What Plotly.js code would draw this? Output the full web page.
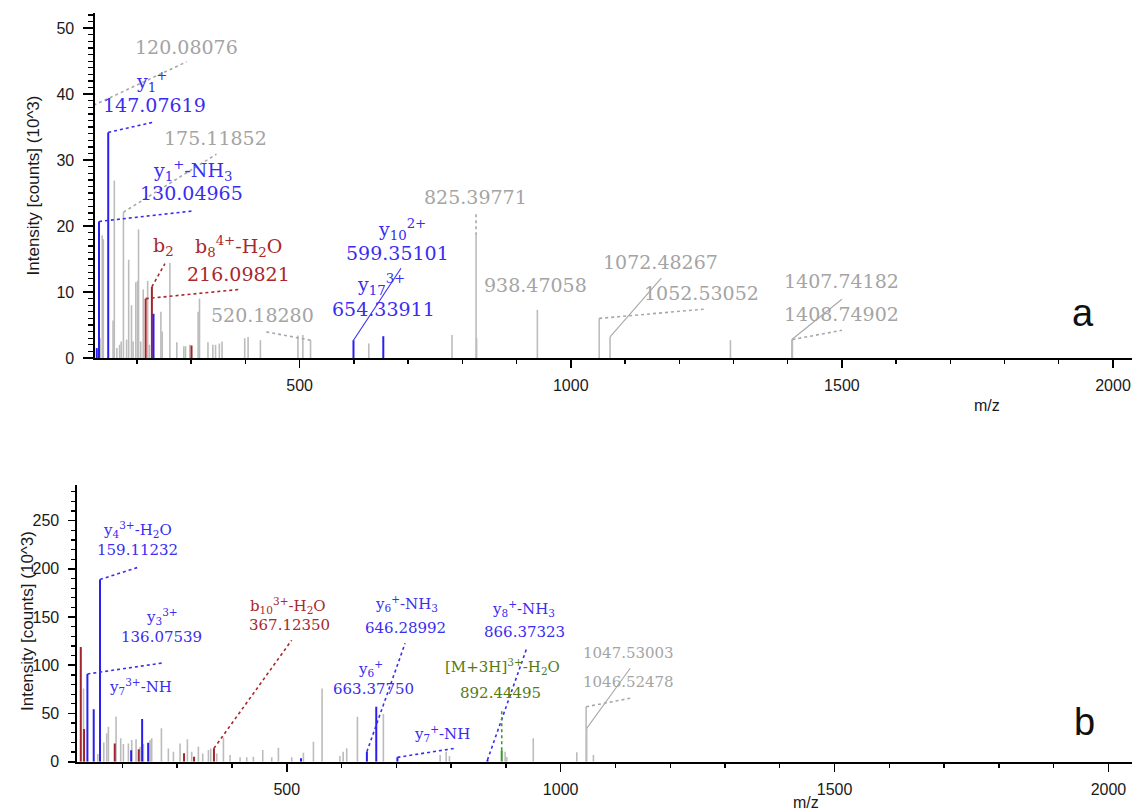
<!DOCTYPE html>
<html><head><meta charset="utf-8">
<script src="https://cdn.plot.ly/plotly-3.0.1.min.js"></script>
<style>html,body{margin:0;padding:0;background:#fff}#chart{width:1132px;height:812px}</style>
</head><body><div id="chart"></div>
<script>
// ---------------- DATA: panel a ----------------
const aGrayMz  = [120.08,132,136,138,156,158.3,163,168,171,175.12,181,184.8,190,193,198,201.3,203,207,211.7,219.8,223,244.2,246.6,260.8,273.6,286.5,289.6,297.6,312.9,315.4,331,340,345,352,357,398.8,405,427.7,496.9,506,520.18,627.6,781,825.40,826.4,938.47,1052.53,1072.48,1294.5,1407.74,1408.75];
const aGrayInt = [38.3,3.0,18.6,18.0,5.7,26.9,1.5,2.0,2.5,22.1,2.8,14.9,8.0,2.5,11.5,11.7,19.5,2.5,10.4,11.7,2.0,7.0,4.0,14.4,2.4,1.8,1.8,2.0,7.0,9.0,2.4,2.0,2.0,2.2,2.5,3.0,3.2,2.7,3.4,3.5,2.7,2.2,3.5,18.6,3.0,7.3,6.0,3.2,2.7,2.8,2.8];
const aBlueMz  = [126,130.05,147.08,230.6,599.35,654.34];
const aBlueInt = [1.5,20.7,34.2,6.7,2.7,3.3];
const aRedMz   = [216.10,227.6,300.7];
const aRedInt  = [9.0,10.8,1.9];

// ---------------- DATA: panel b ----------------
const bGrayMz  = [129,155,166,171.3,174.4,188.4,196.9,201.8,210.9,217,224.9,232.2,238.3,250.5,253.5,271.2,283.9,293.1,305.2,318.6,326.5,338.7,346.6,357,361.2,372.2,384.4,396.5,414.8,427,439.1,456.2,472.6,484.8,509.1,530.4,548.7,564.5,597,603,609.5,629,676.4,780,791,797,898.6,901.7,950,1029.5,1046.52,1047.53,1059.8];
const bGrayInt = [76,8,20,29.4,36.3,47,24.2,18.3,19,22.5,23.2,15.6,18.3,22.5,24.2,34.6,13.8,10.4,19,23.2,10.4,15.6,8.6,12.1,13.8,8.6,25,7,4.5,4.5,5.2,12.1,4.5,14.5,4.5,9.3,20.7,76,6,10.4,13.9,46.7,49.5,7,10.4,6,10.4,5,24.2,9.7,57,34.6,7];
const bBlueMz  = [136.08,147.6,159.11,216,236,247,526,646.29,663.38,702,866.37];
const bBlueInt = [91,54.3,189,12,44.3,19.7,3.5,10.4,57,4.5,1.8];
const bRedMz   = [124,130,186,229.8,312.5,330.8,367.12];
const bRedInt  = [119,34,19,12.8,8.7,5.2,13.9];
const bGreenMz = [892.44];
const bGreenInt= [12];

// ---------------- TEXT ----------------
const aLabelText = ['120.08076','y<sub>1</sub><sup>+</sup>','147.07619','175.11852','y<sub>1</sub><sup>+</sup>-NH<sub>3</sub>','130.04965','b<sub>2</sub>','b<sub>8</sub><sup>4+</sup>-H<sub>2</sub>O','216.09821','520.18280','y<sub>10</sub><sup>2+</sup>','599.35101','y<sub>17</sub><sup>3+</sup>','654.33911','825.39771','938.47058','1072.48267','1052.53052','1407.74182','1408.74902'];
const aLabelKind = ['gray','blue','blue','gray','blue','blue','red','red','red','gray','blue','blue','blue','blue','gray','gray','gray','gray','gray','gray'];
const bLabelText = ['y<sub>4</sub><sup>3+</sup>-H<sub>2</sub>O','159.11232','y<sub>3</sub><sup>3+</sup>','136.07539','y<sub>7</sub><sup>3+</sup>-NH','b<sub>10</sub><sup>3+</sup>-H<sub>2</sub>O','367.12350','y<sub>6</sub><sup>+</sup>-NH<sub>3</sub>','646.28992','y<sub>6</sub><sup>+</sup>','663.37750','y<sub>8</sub><sup>+</sup>-NH<sub>3</sub>','866.37323','[M+3H]<sup>3+</sup>-H<sub>2</sub>O','892.44495','y<sub>7</sub><sup>+</sup>-NH','1047.53003','1046.52478'];
const bLabelKind = ['blue','blue','blue','blue','blue','red','red','blue','blue','blue','blue','blue','blue','green','green','blue','gray','gray'];
const yTitle = 'Intensity [counts] (10^3)';
const xTitle = 'm/z';
const panelNames = ['a','b'];

// ---------------- STYLE / PLACEMENT ----------------
const peakColor = {gray:'#bcbcbc', blue:'#2a1ff0', red:'#a3252b', green:'#3c9a2a'};
const textColor = {gray:'#a4a4a4', blue:'#3a2cf2', red:'#a8282c', green:'#557a14'};
const lineColor = {gray:'#a8a8a8', blue:'#3a2cf2', red:'#a8282c', green:'#3c9a2a'};

const aLabelPos = [[291.5,47.2],[227,41.9],[233,38.3],[345.4,33.3],[302,28.5],[300.7,25.0],[249.7,16.9],[386.8,16.9],[386.6,12.8],[431,6.5],[689,19.5],[680,15.9],[651,11.1],[654.6,7.5],[825,24.4],[935.6,11.1],[1165.5,14.6],[1242,9.8],[1500,11.6],[1500,6.7]];
const bLabelPos = [[227.6,240.4],[226.7,219.6],[273,150.4],[271.8,129.7],[232.2,77.8],[503,162.5],[504.6,141.8],[718,164.5],[717,138.7],[652,96.9],[659,75.1],[932,159],[934.6,134.9],[894,98.6],[889.5,71],[783,29.5],[1123.7,113],[1123.7,83]];

const aConnectors = [
  {mz:120.08,set:'gray',to:[291.5,44.9],dash:'dot'},
  {mz:147.08,set:'blue',to:[233,35.8],dash:'dot'},
  {mz:175.12,set:'gray',to:[346.7,30.9],dash:'dot'},
  {mz:130.05,set:'blue',to:[303.7,22.3],dash:'dot'},
  {mz:227.6,set:'red',to:[251.6,14.3],dash:'dot'},
  {mz:216.10,set:'red',to:[389.6,10.4],dash:'dot'},
  {mz:520.18,set:'gray',to:[436,4.0],dash:'dot'},
  {mz:599.35,set:'blue',to:[687,13.6],dash:'solid'},
  {mz:825.40,set:'gray',to:[825.4,22.2],dash:'dot'},
  {mz:1052.53,set:'gray',to:[1245,7.4],dash:'dot'},
  {mz:1072.48,set:'gray',to:[1167,12.1],dash:'solid'},
  {mz:1407.74,set:'gray',to:[1500,8.9],dash:'solid'},
  {mz:1408.75,set:'gray',to:[1500,4.2],dash:'dot'}
];
const bConnectors = [
  {mz:159.11,set:'blue',to:[228.5,201.6],dash:'dot'},
  {mz:136.08,set:'blue',to:[277,102.7],dash:'dot'},
  {mz:367.12,set:'red',to:[509,126],dash:'dot'},
  {mz:646.29,set:'blue',to:[716,122.8],dash:'dot'},
  {mz:702,set:'blue',to:[807,13.9],dash:'dot'},
  {mz:866.37,set:'blue',to:[938,117.6],dash:'dot'},
  {mz:892.44,set:'green',to:[892.44,53],dash:'dot'},
  {mz:1047.53,set:'gray',to:[1127,96.9],dash:'solid'},
  {mz:1046.52,set:'gray',to:[1127,65.8],dash:'dot'}
];

const aSets = {gray:[aGrayMz,aGrayInt], blue:[aBlueMz,aBlueInt], red:[aRedMz,aRedInt]};
const bSets = {gray:[bGrayMz,bGrayInt], blue:[bBlueMz,bBlueInt], red:[bRedMz,bRedInt], green:[bGreenMz,bGreenInt]};

function sticks(mz, inten, kind, xa, ya, w) {
  const x = [], y = [];
  mz.forEach((m, i) => { x.push(m, m, null); y.push(0, inten[i], null); });
  return {type:'scatter', mode:'lines', x, y, xaxis:xa, yaxis:ya, hoverinfo:'skip',
          line:{color:peakColor[kind], width:w}, showlegend:false};
}

const traces = [
  sticks(aGrayMz, aGrayInt, 'gray', 'x', 'y', 1.6),
  sticks(aRedMz, aRedInt, 'red', 'x', 'y', 2),
  sticks(aBlueMz, aBlueInt, 'blue', 'x', 'y', 2),
  sticks(bGrayMz, bGrayInt, 'gray', 'x2', 'y2', 1.6),
  sticks(bRedMz, bRedInt, 'red', 'x2', 'y2', 2),
  sticks(bBlueMz, bBlueInt, 'blue', 'x2', 'y2', 2),
  sticks(bGreenMz, bGreenInt, 'green', 'x2', 'y2', 2)
];

function connectorShapes(list, sets, xr, yr) {
  return list.map(c => {
    const [mzs, ints] = sets[c.set];
    const top = ints[mzs.indexOf(c.mz)];
    return {type:'line', xref:xr, yref:yr, x0:c.mz, y0:top, x1:c.to[0], y1:c.to[1],
            line:{color:lineColor[c.set], width:c.dash==='dot'?1.6:1.1, dash:c.dash}};
  });
}

const annotations = [];
aLabelText.forEach((t, i) => annotations.push({xref:'x', yref:'y', x:aLabelPos[i][0], y:aLabelPos[i][1], text:t, showarrow:false,
  xanchor:'center', yanchor:'middle', font:{family:'DejaVu Serif, serif', size:19, color:textColor[aLabelKind[i]]}}));
bLabelText.forEach((t, i) => annotations.push({xref:'x2', yref:'y2', x:bLabelPos[i][0], y:bLabelPos[i][1], text:t, showarrow:false,
  xanchor:'center', yanchor:'middle', font:{family:'DejaVu Serif, serif', size:15, color:textColor[bLabelKind[i]]}}));
annotations.push({xref:'x', yref:'y', x:1944.6, y:6.8, text:panelNames[0], showarrow:false, xanchor:'center', yanchor:'middle',
  font:{family:'Liberation Sans, Arial, sans-serif', size:38, color:'#111'}});
annotations.push({xref:'x2', yref:'y2', x:1955.7, y:41.5, text:panelNames[1], showarrow:false, xanchor:'center', yanchor:'middle',
  font:{family:'Liberation Sans, Arial, sans-serif', size:38, color:'#111'}});
annotations.push({xref:'paper', yref:'paper', x:987/1132, y:1-405/812, text:xTitle, showarrow:false, xanchor:'center', yanchor:'middle',
  font:{family:'Liberation Sans, Arial, sans-serif', size:16, color:'#1a1a1a'}});
annotations.push({xref:'paper', yref:'paper', x:806/1132, y:1-802/812, text:xTitle, showarrow:false, xanchor:'center', yanchor:'middle',
  font:{family:'Liberation Sans, Arial, sans-serif', size:16, color:'#1a1a1a'}});
// y title of the lower panel (placed precisely)
annotations.push({xref:'paper', yref:'paper', x:27/1132, y:1-621/812, text:yTitle, showarrow:false, textangle:-90,
  xanchor:'center', yanchor:'middle', font:{family:'Liberation Sans, Arial, sans-serif', size:17, color:'#1a1a1a'}});

function xAxis(domain, range, anchor) {
  return {domain, range, anchor, tickmode:'linear', tick0:0, dtick:500, ticks:'outside', ticklen:8, tickwidth:1.6,
    tickcolor:'#000', showline:true, linecolor:'#000', linewidth:2, showgrid:false, zeroline:false,
    tickfont:{size:16, color:'#1a1a1a'}, ticklabelstandoff:4,
    minor:{tickmode:'linear', tick0:0, dtick:100, ticks:'outside', ticklen:4, tickwidth:1.4, tickcolor:'#000', showgrid:false}};
}
function yAxis(domain, range, anchor, dtick, mdtick, tl, mtl, title) {
  const ax = {domain, range, anchor, tickmode:'linear', tick0:0, dtick, ticks:'outside', ticklen:tl, tickwidth:1.6,
    tickcolor:'#000', showline:true, linecolor:'#000', linewidth:1.6, showgrid:false, zeroline:false,
    tickfont:{size:16, color:'#1a1a1a'}, ticklabelstandoff:6,
    minor:{tickmode:'linear', tick0:0, dtick:mdtick, ticks:'outside', ticklen:mtl, tickwidth:1.3, tickcolor:'#000', showgrid:false}};
  if (title) ax.title = {text:yTitle, font:{size:17, color:'#1a1a1a'}, standoff:12};
  return ax;
}

const layout = {
  width:1132, height:812, margin:{l:0, r:0, t:0, b:0}, paper_bgcolor:'#fff', plot_bgcolor:'#fff',
  showlegend:false, hovermode:false,
  font:{family:'Liberation Sans, Arial, sans-serif', color:'#1a1a1a'},
  xaxis: xAxis([95/1132, 1], [122.7, 2035], 'y'),
  yaxis: yAxis([1-358/812, 1-13/812], [0, 52.3], 'x', 10, 1, 10, 5, true),
  xaxis2: xAxis([77/1132, 1], [117.1, 2043], 'y2'),
  yaxis2: yAxis([1-761.7/812, 1-485/812], [0, 287], 'x2', 50, 10, 7, 4, false),
  shapes: connectorShapes(aConnectors, aSets, 'x', 'y').concat(connectorShapes(bConnectors, bSets, 'x2', 'y2')),
  annotations
};

Plotly.newPlot('chart', traces, layout, {staticPlot:true, displayModeBar:false});
</script></body></html>
